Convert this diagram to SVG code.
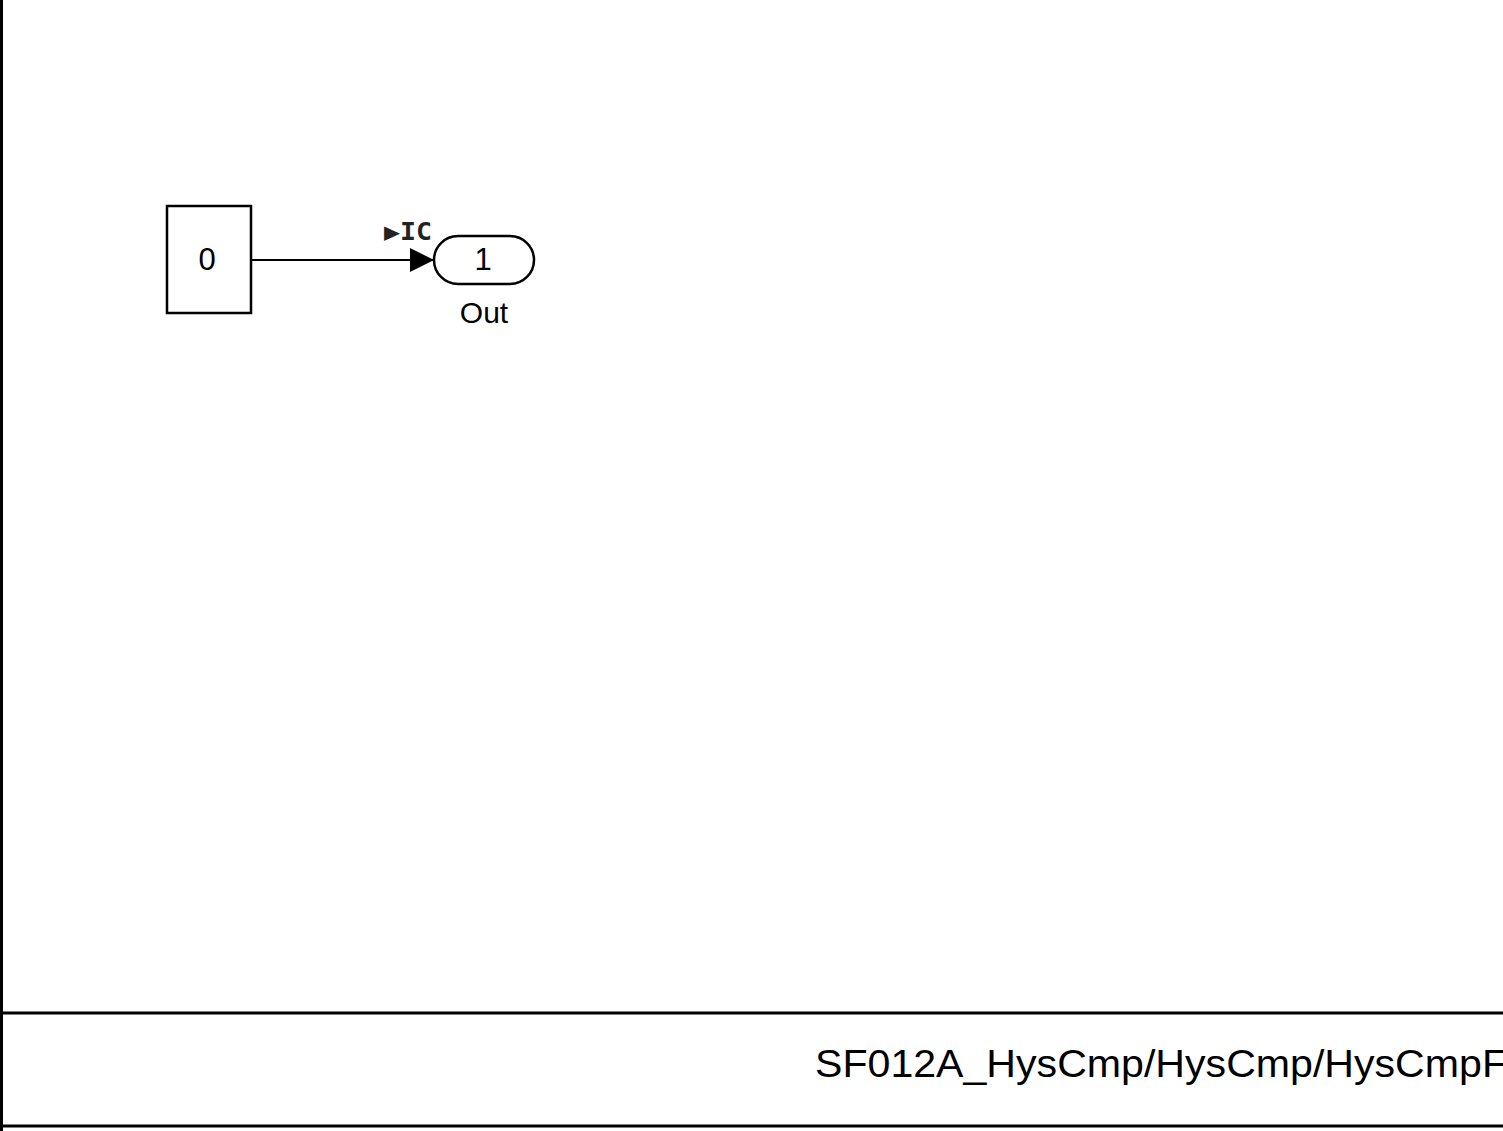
<svg xmlns="http://www.w3.org/2000/svg" width="1503" height="1131" viewBox="0 0 1503 1131">
<style>
.blk{fill:#fff;stroke:#000;stroke-width:2.5}
.lbl{font-family:"Liberation Sans",Arial,sans-serif;font-size:31px;fill:#000}
.frame{stroke:#000;stroke-width:3;fill:none}
</style>
<defs>
<marker id="arr" markerWidth="24" markerHeight="24" refX="24" refY="12" orient="auto" markerUnits="userSpaceOnUse">
<path d="M0,0 L24,12 L0,24 Z" fill="#000"/>
</marker>
</defs>
<rect width="1503" height="1131" fill="#fff"/>
<g id="frame">
<line class="frame" x1="1.5" y1="0" x2="1.5" y2="1131"/>
<line class="frame" x1="0" y1="1013" x2="1503" y2="1013"/>
<line class="frame" x1="0" y1="1126" x2="1503" y2="1126"/>
<text x="815" y="1077" font-family="'Liberation Sans',Arial,sans-serif" font-size="39" textLength="692" lengthAdjust="spacingAndGlyphs">SF012A_HysCmp/HysCmp/HysCmpF</text>
</g>
<g id="connectors">
<line x1="252" y1="260" x2="434" y2="260" stroke="#000" stroke-width="2" marker-end="url(#arr)"/>
</g>
<g id="constant">
<rect class="blk" x="167" y="206" width="84" height="107"/>
<text class="lbl" x="207" y="270" text-anchor="middle">0</text>
</g>
<g id="out">
<rect class="blk" x="434" y="236" width="100" height="48" rx="24" ry="24"/>
<text class="lbl" x="483" y="270" text-anchor="middle">1</text>
<text class="lbl" x="484" y="323" text-anchor="middle" style="font-size:30px">Out</text>
<text x="384" y="240" font-family="'DejaVu Sans Mono',monospace" font-weight="bold" font-size="24" fill="#222" textLength="48" lengthAdjust="spacingAndGlyphs">▶IC</text>
</g>
</svg>
